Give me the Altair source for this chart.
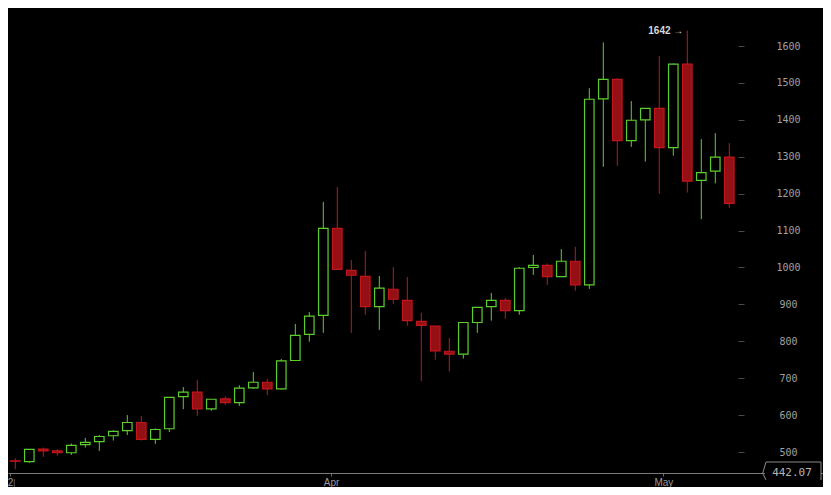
import altair as alt
import pandas as pd

# ---- data (one candle per slot) ----
opens  = [510, 476, 474, 508, 503, 498, 520, 528, 544, 558, 580, 534, 563, 650, 662, 617, 644, 634, 674, 689,
          671, 748, 819, 870, 1106, 992, 976, 894, 941, 911, 854, 841, 773, 765, 851, 894, 911, 883, 1000, 1006,
          975, 1017, 953, 1457, 1510, 1344, 1400, 1431, 1325, 1551, 1236, 1261, 1299]
highs  = [530, 483, 508, 512, 508, 523, 538, 546, 559, 600, 598, 564, 649, 676, 695, 643, 651, 681, 717, 698,
          752, 847, 879, 1178, 1218, 1020, 1045, 977, 1001, 974, 877, 841, 809, 852, 893, 931, 917, 1001, 1034, 1011,
          1050, 1056, 1486, 1610, 1513, 1451, 1431, 1573, 1553, 1642, 1348, 1364, 1337]
lows   = [442.07, 453, 471, 487, 490, 492, 512, 503, 531, 546, 531, 522, 554, 616, 598, 612, 628, 625, 671, 654,
          669, 747, 799, 823, 995, 823, 872, 831, 902, 842, 692, 750, 718, 753, 823, 856, 861, 872, 980, 953,
          975, 937, 942, 1273, 1276, 1327, 1287, 1200, 1303, 1203, 1131, 1228, 1162]
closes = [476, 475, 507, 503, 498, 518, 526, 542, 556, 580, 534, 561, 648, 662, 617, 643, 634, 673, 689, 671,
          747, 816, 868, 1106, 995, 979, 894, 944, 914, 856, 843, 774, 765, 851, 892, 911, 883, 998, 1006, 975,
          1017, 953, 1456, 1510, 1344, 1399, 1431, 1325, 1551, 1234, 1257, 1299, 1174]

y_ticks = [500, 600, 700, 800, 900, 1000, 1100, 1200, 1300, 1400, 1500, 1600]
x_label_pos = [0.62, 23.55, 47.29]
x_label_txt = ["2", "Apr", "May"]

GREEN = "#5dcf2d"
RED_S = "#c3151c"
RED_F = "#951015"

n = len(opens)
df = pd.DataFrame({"i": list(range(n)), "o": opens, "h": highs, "l": lows, "c": closes})

hi_idx = highs.index(max(highs))
hi_df = pd.DataFrame({"i": [hi_idx], "v": [max(highs)], "t": [f"{max(highs):g} \u2192"]})
lo_df = pd.DataFrame({"v": [min(lows)], "t": [f"{min(lows):.2f}"]})
one = pd.DataFrame({"k": [0]})

W, H = 815, 479
xs = alt.Scale(domain=[0.4786, 58.693], nice=False, zero=False, padding=0)
ys = alt.Scale(domain=[405.15, 1703.25], nice=False, zero=False, padding=0)

expr = " : ".join(
    [f"datum.value < {p + 0.5} ? '{t}'" for p, t in zip(x_label_pos[:-1], x_label_txt[:-1])]
) + f" : '{x_label_txt[-1]}'"

X_AX = alt.Axis(orient="bottom", offset=-14, values=x_label_pos, labelExpr=expr, title=None,
                grid=False, domainColor="#7a7a7a", domainWidth=1, tickColor="#666666", tickSize=3,
                labelColor="#9a9a9a", labelFont="Liberation Sans", labelFontSize=10, labelPadding=1,
                labelFlush=False, labelOverlap=False)
Y_AX = alt.Axis(orient="right", offset=-85, values=y_ticks, format="d", title=None, grid=False, domain=False,
                tickColor="#4a4a4a", tickSize=6, labelAlign="center", labelBaseline="middle",
                labelPadding=44, labelFont="DejaVu Sans Mono", labelFontSize=10, labelColor="#a0a0a0")

X = alt.X("i:Q", scale=xs, axis=X_AX)
up = "datum.c >= datum.o"

wick = alt.Chart(df).mark_rule(strokeWidth=1).encode(
    x=X,
    y=alt.Y("l:Q", scale=ys, axis=Y_AX),
    y2="h:Q",
    color=alt.condition(up, alt.value(GREEN), alt.value(RED_S)),
)

body = alt.Chart(df).mark_bar(size=9.5, strokeWidth=1.2).encode(
    x=X,
    y=alt.Y("o:Q", scale=ys, axis=Y_AX),
    y2="c:Q",
    fill=alt.condition(up, alt.value("#000000"), alt.value(RED_F)),
    stroke=alt.condition(up, alt.value(GREEN), alt.value(RED_S)),
)

hi_text = alt.Chart(hi_df).mark_text(align="right", baseline="middle", dx=-4, font="Liberation Sans",
                                     fontSize=10, fontWeight="bold", color="#d8d8d8").encode(
    x=X, y=alt.Y("v:Q", scale=ys, axis=Y_AX), text="t:N")

box_bg = alt.Chart(one).mark_rect(color="#000000").encode(
    x=alt.value(757), x2=alt.value(813), y=alt.value(454), y2=alt.value(472))
box_top = alt.Chart(one).mark_rule(color="#8a8a8a", strokeWidth=1).encode(
    x=alt.value(758), x2=alt.value(813), y=alt.value(454), y2=alt.value(454))
box_right = alt.Chart(one).mark_rule(color="#8a8a8a", strokeWidth=1).encode(
    x=alt.value(813), x2=alt.value(813), y=alt.value(454), y2=alt.value(472))
box_l1 = alt.Chart(one).mark_rule(color="#8a8a8a", strokeWidth=1).encode(
    x=alt.value(758), x2=alt.value(754.7), y=alt.value(454), y2=alt.value(465.3))
box_l2 = alt.Chart(one).mark_rule(color="#8a8a8a", strokeWidth=1).encode(
    x=alt.value(754.7), x2=alt.value(758), y=alt.value(465.3), y2=alt.value(472))
sep = alt.Chart(one).mark_rule(color="#555555", strokeWidth=1).encode(
    x=alt.value(6.3), x2=alt.value(6.3), y=alt.value(471), y2=alt.value(479))

lo_text = alt.Chart(lo_df).mark_text(align="center", baseline="middle", font="DejaVu Sans Mono",
                                     fontSize=11, color="#b5b5b5").encode(
    x=alt.value(784), y=alt.Y("v:Q", scale=ys, axis=Y_AX), text="t:N")

chart = alt.layer(wick, body, hi_text, box_bg, box_top, box_right, box_l1, box_l2, sep, lo_text).properties(
    width=W, height=H, autosize=alt.AutoSizeParams(type="none"), padding=0, background="#000000"
).configure_view(stroke=None)

chart.save("out.html", embed_options={"renderer": "svg", "actions": False})
